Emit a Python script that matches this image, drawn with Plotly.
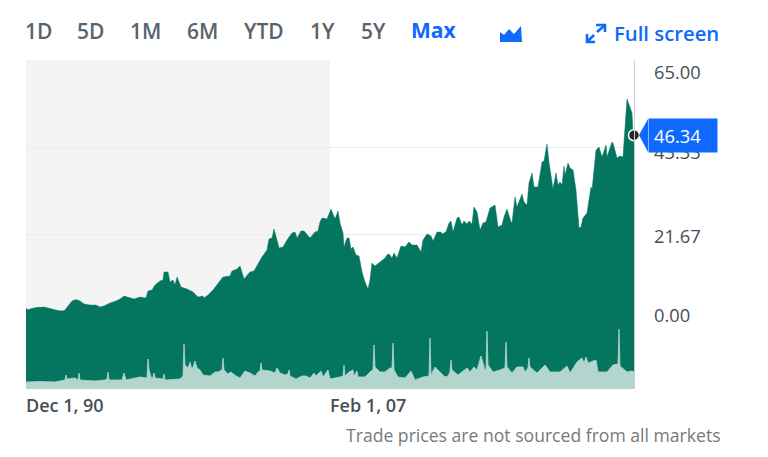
import plotly.graph_objects as go

# monthly-ish sample number along the chart (not calendar spaced)
period = [0,2,4,10,18,22,28,32,36,39,42,46,50,54,58,64,70,74,78,84,90,94,98,104,108,114,120,122,126,129,132,134,137,138,142,144,147,149,151,155,161,167,172,177,178,182,187,192,197,204,206,211,214,218,221,224,228,233,236,241,243,246,248,251,253,257,261,266,269,271,275,278,284,289,292,294,296,301,305,309,312,314,317,318,321,323,325,327,330,333,336,339,342,344,346,349,356,359,361,363,366,368,371,375,379,383,386,391,395,397,401,405,407,411,415,416,420,423,425,427,431,433,436,438,441,443,446,448,451,454,457,460,464,469,472,476,478,481,485,486,489,491,496,498,501,503,506,508,512,516,518,521,523,527,530,532,534,536,538,539,542,544,547,550,553,555,557,561,565,566,570,573,576,580,581,586,587,591,594,597,601,604,606,607,608]
price = [3.47,2.98,3.23,3.60,3.72,3.47,2.98,2.85,2.73,2.98,3.97,5.21,5.58,5.21,4.47,4.22,4.22,3.72,3.97,4.71,5.21,5.71,6.45,5.95,5.71,6.20,5.95,7.69,7.94,9.18,9.67,10.17,10.42,12.41,12.41,9.92,10.42,9.18,11.17,8.68,8.19,7.44,6.20,6.45,5.95,6.70,7.94,9.67,11.17,11.41,12.65,13.15,13.89,10.67,11.41,12.41,12.65,14.89,16.13,17.86,20.59,20.84,23.06,20.34,18.36,18.61,20.34,22.07,22.32,20.84,22.57,22.57,20.84,22.32,22.57,24.81,25.79,25.55,28.03,25.55,27.53,24.55,22.07,18.61,20.84,20.84,18.11,18.61,16.62,16.37,12.41,9.92,8.19,10.42,14.64,13.89,15.38,15.87,16.62,16.87,15.87,17.12,15.87,18.85,18.61,19.85,19.10,19.10,17.36,20.34,21.83,21.33,20.09,22.32,22.32,21.83,22.32,24.55,25.05,22.32,25.79,26.04,24.06,25.05,24.30,25.05,24.30,28.52,27.28,22.82,24.55,24.81,28.27,29.02,23.56,24.06,26.04,28.03,24.81,24.55,31.00,28.52,31.74,29.76,29.02,34.47,36.95,33.48,33.48,39.68,39.93,44.14,39.68,32.98,36.95,33.98,34.72,33.98,38.69,36.46,39.43,38.19,37.70,32.74,23.31,23.56,25.79,27.03,33.48,32.74,42.66,43.40,40.92,43.90,40.92,44.64,44.39,40.67,41.17,40.92,55.30,53.07,51.83,46.87,46.34]

vol_period = [0,14,29,36,39,40,41,49,52,53,54,69,79,81,82,83,96,98,100,114,121,122,123,126,128,129,137,138,139,154,157,158,159,162,164,166,169,171,174,177,184,189,192,196,197,198,202,205,210,214,219,224,229,232,234,235,236,244,249,251,254,259,262,263,264,270,276,280,284,288,290,295,297,302,304,314,317,318,319,323,327,328,331,332,339,345,347,348,349,354,359,364,366,367,368,372,379,385,389,397,402,403,404,405,409,414,419,422,424,425,426,432,441,444,448,451,455,457,459,460,461,462,467,474,479,480,481,486,491,497,499,502,503,504,511,519,524,534,541,544,551,556,558,560,562,570,572,581,587,592,593,594,601,606,608]
volume = [7,7.5,7,8,9,14,10,11,9,16,9,8,9,10,17,9,9,16,9,12,11,30,19,9,16,11,10,15,9,10,13,45,24,21,27,19,28,21,19,14,13,17,17,19,31,19,15,17,13,11,18,16,13,17,18,26,19,18,16,21,16,14,15,19,13,10,13,13,11,16,13,18,12,19,10,12,13,24,13,17,19,13,18,12,12,18,19,44,22,17,17,21,21,46,19,12,11,18,9,12,13,13,51,14,22,17,12,13,17,29,19,14,21,17,22,19,33,26,19,19,58,24,17,19,21,47,22,16,22,22,17,21,31,22,16,24,17,17,23,16,27,31,26,32,26,29,17,17,24,25,60,23,17,18,17]

y_ticks = [65, 43.33, 21.67, 0]
y_tick_labels = ["65.00", "43.33", "21.67", "0.00"]
y_label_shift = [-11, -4, -1, 8]
x_ticks = [0, 304]
x_tick_labels = ["Dec 1, 90", "Feb 1, 07"]
range_buttons = ["1D", "5D", "1M", "6M", "YTD", "1Y", "5Y"]
button_x = [26, 78, 131, 188, 245, 311, 362]

Y_MIN = -16.6
W, H = 768, 457
L, R, T, B = 26, 634, 60, 389
GREEN = "#04755f"
BLUE = "#0f69ff"
GREY = "#5b636a"
FONT = "Open Sans"


def px(x):
    return (x - L) / (R - L)


def py(y):
    return (B - y) / (B - T)


def path(points, closed=True):
    d = "M" + " L".join(f"{px(x):.4f},{py(y):.4f}" for x, y in points)
    return d + " Z" if closed else d


fig = go.Figure()

# invisible floor so the price area runs down to the bottom of the plot
fig.add_trace(go.Scatter(x=period, y=[Y_MIN] * len(period), mode="lines",
                         line=dict(width=0), hoverinfo="skip", showlegend=False))
fig.add_trace(go.Scatter(x=period, y=price, mode="lines", fill="tonexty",
                         fillcolor=GREEN, line=dict(color=GREEN, width=0.5), showlegend=False))
fig.add_trace(go.Scatter(x=vol_period, y=volume, yaxis="y2", mode="lines", fill="tozeroy",
                         fillcolor="#b2d6cd", line=dict(color="#b2d6cd", width=0.8), showlegend=False))
# last price dot
fig.add_trace(go.Scatter(x=period[-1:], y=price[-1:], mode="markers", cliponaxis=False,
                         marker=dict(size=11, color="#26282a", line=dict(color="white", width=1.5)),
                         showlegend=False))

shapes = [
    # shaded earlier period
    dict(type="rect", xref="x", yref="paper", x0=x_ticks[0], x1=x_ticks[1], y0=0, y1=1,
         fillcolor="#f4f4f4", line_width=0, layer="between"),
    # pointer of the price flag
    dict(type="path", xref="paper", yref="paper", line_width=0, fillcolor=BLUE,
         path=path([(639, 135), (648, 119), (648, 152)])),
    # chart type icon
    dict(type="path", xref="paper", yref="paper", line_width=0, fillcolor=BLUE,
         path=path([(500, 42), (500, 32), (504, 35), (509, 29), (514, 34), (521, 26), (522, 42)])),
]
# full screen icon
for pts in ([(596, 25), (605, 25), (605, 32)], [(604, 26), (597, 32)],
            [(587, 34), (587, 42), (595, 42)], [(588, 41), (594, 35)]):
    shapes.append(dict(type="path", xref="paper", yref="paper", line=dict(color=BLUE, width=2.6),
                       path=path(pts, closed=False)))

annotations = []


def label(x, y, text, color=GREY, size=18, anchor="left", weight=None):
    annotations.append(dict(xref="paper", yref="paper", x=px(x), y=py(y), text=text, showarrow=False,
                            xanchor=anchor, yanchor="middle", borderpad=0, borderwidth=0,
                            font=dict(family=FONT, size=size, color=color, weight=weight)))


for name, x in zip(range_buttons, button_x):
    label(x - 1, 31, name, size=21, weight=600)
label(411, 30, "Max", color=BLUE, size=21, weight=700)
label(614, 33, "Full screen", color=BLUE, size=20.3, weight=600)
label(721, 435, "Trade prices are not sourced from all markets", color="#77797c", size=17.6, anchor="right")

for val, text, shift in zip(y_ticks, y_tick_labels, y_label_shift):
    annotations.append(dict(xref="paper", yref="y", x=px(651.5), y=val, yshift=shift, text=text,
                            showarrow=False, xanchor="left", yanchor="middle",
                            font=dict(family=FONT, size=18.3, color="#464e56")))
for val, text in zip(x_ticks, x_tick_labels):
    annotations.append(dict(xref="x", yref="paper", x=val, y=py(405), text=text, showarrow=False,
                            xanchor="left", yanchor="middle", xshift=-2,
                            font=dict(family=FONT, size=18, color="#464e56", weight=600)))

# price flag goes last so it covers part of the 43.33 label
annotations.append(dict(xref="paper", yref="y", x=px(648), y=price[-1], text=f"{price[-1]:.2f}",
                        showarrow=False, xanchor="left", yanchor="middle", align="left",
                        width=58, height=23, borderpad=5, bgcolor=BLUE,
                        font=dict(family=FONT, size=18.3, color="white")))

fig.update_layout(
    width=W, height=H,
    margin=dict(l=L, r=W - R, t=T, b=H - B, pad=0),
    paper_bgcolor="white", plot_bgcolor="white",
    showlegend=False,
    xaxis=dict(range=[0, 608], showgrid=False, zeroline=False, showticklabels=False, ticks="",
               tickvals=x_ticks),
    yaxis=dict(range=[Y_MIN, 65], side="right", tickvals=y_ticks, showticklabels=False, ticks="",
               gridcolor="#ebebeb", gridwidth=1, zeroline=False, showline=True, linecolor="#cfcfcf",
               linewidth=1),
    yaxis2=dict(range=[0, 329], overlaying="y", visible=False),
    shapes=shapes,
    annotations=annotations,
)

assert len(vol_period) == len(volume), (len(vol_period), len(volume))
fig.write_html("out.html", config={"displayModeBar": False},
               post_script="document.body.style.margin='0';")
